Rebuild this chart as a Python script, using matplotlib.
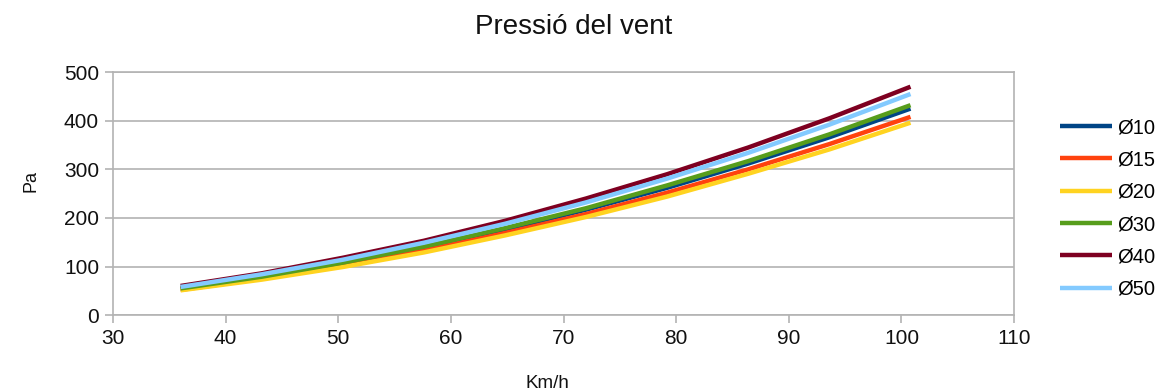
import matplotlib.pyplot as plt

plt.rcParams['font.family'] = ['Liberation Sans', 'DejaVu Sans']

# wind speed (km/h) and pressure (Pa) per diameter
speed_kmh = [36, 43.2, 50.4, 57.6, 64.8, 72, 79.2, 86.4, 93.6, 100.8]
p_d10 = [54, 78, 106, 139, 176, 217, 262, 312, 366, 425]
p_d15 = [52, 75, 102, 133, 169, 208, 252, 300, 352, 408]
p_d20 = [51, 73, 99, 129, 164, 202, 244, 291, 341, 396]
p_d30 = [55, 79, 108, 141, 179, 220, 267, 317, 372, 432]
p_d40 = [60, 86, 118, 153, 194, 240, 290, 345, 405, 470]
p_d50 = [58, 84, 114, 149, 188, 232, 281, 334, 392, 455]

labels = ["Ø10", "Ø15", "Ø20", "Ø30", "Ø40", "Ø50"]
colors = ["#004586", "#ff420e", "#ffd320", "#579d1c", "#7e0021", "#83caff"]
series = [p_d10, p_d15, p_d20, p_d30, p_d40, p_d50]

fig = plt.figure(figsize=(11.59, 3.9), dpi=100)
ax = fig.add_axes([0.0975, 0.192, 0.7775, 0.623])

for vals, lab, col in zip(series, labels, colors):
    ax.plot(speed_kmh, vals, color=col, linewidth=3.2, label=lab, solid_capstyle='butt')

ax.set_xlim(30, 110)
ax.set_ylim(0, 500)
ax.set_xticks(range(30, 111, 10))
ax.set_yticks(range(0, 501, 100))
ax.grid(axis='y', color='#b3b3b3', linewidth=1.2)
ax.set_axisbelow(True)
for sp in ax.spines.values():
    sp.set_color('#b3b3b3')
    sp.set_linewidth(1.2)
ax.tick_params(colors='#b3b3b3', labelcolor='#111111', labelsize=15, length=6, width=1.2, pad=4)

fig.suptitle("Pressió del vent", x=0.495, y=0.93, va='center', fontsize=20, color='#111111')
fig.text(0.027, 0.535, "Pa", rotation=90, ha='center', va='center', fontsize=13, color='#111111')
fig.text(0.472, 0.016, "Km/h", ha='center', va='center', fontsize=13.5, color='#111111')

ax.legend(loc='upper left', bbox_to_anchor=(0.9146, 0.697), bbox_transform=fig.transFigure,
          frameon=False, fontsize=14.5, borderpad=0, borderaxespad=0,
          handlelength=2.6, handletextpad=0.25, labelspacing=0.66)

fig.savefig("out.png", dpi=100)
